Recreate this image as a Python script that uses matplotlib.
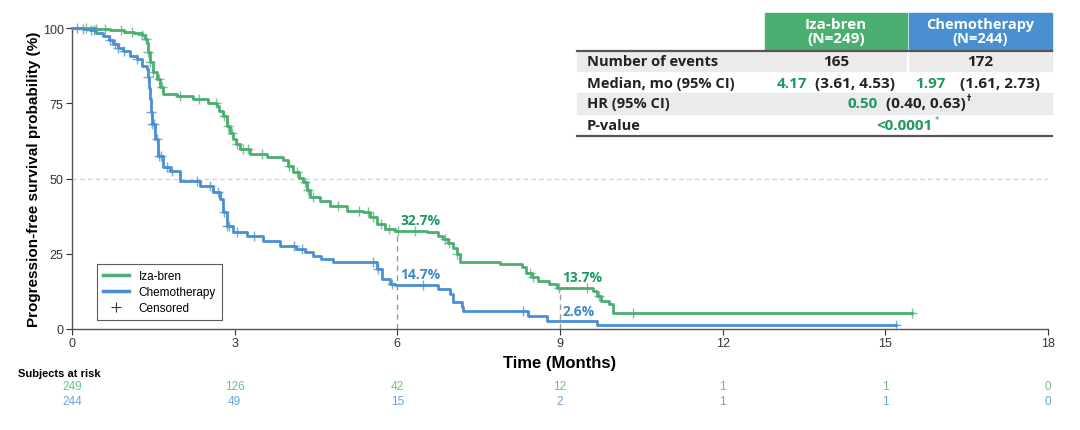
import matplotlib
matplotlib.use("Agg")
import matplotlib.pyplot as plt
import numpy as np
from matplotlib.lines import Line2D
from matplotlib.patches import Rectangle
import matplotlib.transforms as mtransforms

# Kaplan-Meier steps (months, % surviving)
iza_t = [0, 0.45, 0.7, 0.95, 1.15, 1.3, 1.35, 1.38, 1.40, 1.44, 1.49, 1.56, 1.62, 1.68, 1.93,
         2.23, 2.5, 2.67, 2.72, 2.78, 2.85, 2.92, 2.97, 3.03, 3.1, 3.28, 3.59, 3.89, 3.98, 4.08,
         4.18, 4.26, 4.33, 4.39, 4.57, 4.76, 5.07, 5.37, 5.5, 5.62, 5.77, 5.95, 6.55, 6.75, 6.85,
         6.93, 7.02, 7.1, 7.16, 7.9, 8.3, 8.38, 8.48, 8.6, 8.8, 8.95, 9.6, 9.68, 9.75, 9.9, 9.98, 15.5]
iza_s = [100, 99.6, 99.2, 98.8, 98.4, 97.6, 96.5, 95.0, 92.0, 88.7, 85.4, 83.0, 80.4, 78.0, 77.5,
         76.4, 75.2, 74.2, 72.5, 70.9, 67.5, 65.2, 63.1, 61.5, 59.8, 58.1, 57.0, 56.0, 54.0, 52.1,
         50.3, 48.8, 46.2, 43.8, 42.6, 41.0, 39.3, 39.0, 37.2, 34.9, 33.2, 32.7, 32.2, 31.0, 30.0,
         28.5, 27.0, 25.0, 22.2, 21.6, 20.6, 18.5, 17.2, 16.1, 15.0, 13.7, 12.5, 11.0, 9.2, 8.3, 5.2, 5.2]
chemo_t = [0, 0.2, 0.33, 0.45, 0.57, 0.68, 0.76, 0.85, 0.94, 1.07, 1.2, 1.29, 1.38, 1.40, 1.42,
           1.44, 1.45, 1.47, 1.53, 1.59, 1.68, 1.81, 1.99, 2.36, 2.6, 2.73, 2.78, 2.85, 2.97, 3.22,
           3.52, 3.84, 4.14, 4.3, 4.44, 4.6, 4.81, 5.62, 5.71, 5.86, 5.96, 6.75, 6.97, 7.03, 7.19,
           7.21, 8.41, 8.76, 9.68, 15.2]
chemo_s = [100, 99.6, 99.2, 98.4, 97.2, 96.0, 94.7, 93.5, 92.5, 90.8, 89.7, 87.5, 86.4, 83.7, 80.0,
           76.4, 72.0, 68.0, 63.0, 57.6, 53.8, 52.6, 49.3, 47.6, 45.5, 43.2, 38.8, 34.3, 32.1, 31.0,
           29.3, 27.7, 26.6, 25.5, 24.4, 23.3, 22.1, 19.9, 16.6, 15.0, 14.7, 13.3, 11.6, 8.9, 7.3,
           6.1, 4.4, 2.6, 1.3, 1.3]

# censored times
iza_cens = [0.25, 0.45, 0.6, 0.9, 1.1, 1.3, 1.36, 1.41, 1.44, 1.5, 1.6, 1.66, 2.0, 2.35, 2.65,
            2.8, 2.87, 2.95, 3.05, 3.15, 3.25, 3.5, 4.0, 4.15, 4.3, 4.35, 4.45, 4.9, 5.3, 5.45,
            5.55, 5.7, 5.85, 6.02, 6.33, 6.88, 6.95, 7.1, 8.45, 8.5, 8.98, 9.5, 9.72, 10.35, 15.5]
chemo_cens = [0.1, 0.2, 0.35, 0.4, 0.7, 0.8, 0.85, 0.95, 1.2, 1.4, 1.45, 1.48, 1.52, 1.56, 1.6,
              1.65, 1.75, 1.85, 2.3, 2.55, 2.7, 2.8, 2.85, 2.9, 3.05, 3.35, 4.1, 4.25, 5.55, 5.65,
              5.9, 6.47, 8.32, 15.2]

risk_times = [0, 3, 6, 9, 12, 15, 18]
iza_risk = [249, 126, 42, 12, 1, 1, 0]
chemo_risk = [244, 49, 15, 2, 1, 1, 0]

landmarks = [6, 9]
iza_land = [32.7, 13.7]
chemo_land = [14.7, 2.6]

GREEN = '#4cae72'
BLUE = '#4a8fd2'
GTXT = '#1f9960'
BTXT = '#3f88cc'
ARIAL = 'Liberation Sans'


def surv_at(t, times, surv):
    idx = np.searchsorted(times, t, side='right') - 1
    return np.array(surv)[idx]


fig = plt.figure(figsize=(10.8, 4.31), dpi=100)
ax = fig.add_axes([72/1080, 101/431, 976/1080, 301/431])

ax.axhline(50, color='#cccccc', lw=0.8, ls=(0, (4, 3)), zorder=1)
for lt, ls_ in zip(landmarks, iza_land):
    ax.plot([lt, lt], [0, ls_], color='#999999', lw=1, ls=(0, (4, 3)), zorder=1)

ax.step(iza_t, iza_s, where='post', color=GREEN, lw=2, zorder=3, clip_on=False)
ax.step(chemo_t, chemo_s, where='post', color=BLUE, lw=2, zorder=3, clip_on=False)
ax.plot(iza_cens, surv_at(iza_cens, iza_t, iza_s), ls='none', marker='+', ms=7, mew=1,
        color=GREEN, alpha=0.75, zorder=4, clip_on=False)
ax.plot(chemo_cens, surv_at(chemo_cens, chemo_t, chemo_s), ls='none', marker='+', ms=7, mew=1,
        color=BLUE, alpha=0.75, zorder=4, clip_on=False)

for lt, v in zip(landmarks, iza_land):
    ax.text(lt + 0.05, v + 1.2, f'{v}%', color=GTXT, fontsize=10, fontweight='bold',
            family='Open Sans', va='bottom', ha='left')
for lt, v in zip(landmarks, chemo_land):
    ax.text(lt + 0.05, v + 1.2, f'{v}%', color=BTXT, fontsize=10, fontweight='bold',
            family='Open Sans', va='bottom', ha='left')

ax.set_xlim(0, 18)
ax.set_ylim(0, 100)
ax.set_xticks(risk_times)
ax.set_yticks([0, 25, 50, 75, 100])
ax.tick_params(labelsize=9, colors='#333333', length=4, width=0.8, pad=2)
for lab in ax.get_xticklabels() + ax.get_yticklabels():
    lab.set_family(ARIAL)
for sp in ['top', 'right']:
    ax.spines[sp].set_visible(False)
for sp in ['left', 'bottom']:
    ax.spines[sp].set_color('#555555')
    ax.spines[sp].set_linewidth(1)

ax.set_xlabel('Time (Months)', fontsize=12, fontweight='bold', family=ARIAL, labelpad=4)
ax.set_ylabel('Progression-free survival probability (%)', fontsize=11, fontweight='bold',
              family=ARIAL, labelpad=1)

handles = [Line2D([], [], color=GREEN, lw=2.5), Line2D([], [], color=BLUE, lw=2.5),
           Line2D([], [], color='#333333', marker='+', ls='none', ms=7, mew=0.8)]
leg = ax.legend(handles, ['Iza-bren', 'Chemotherapy', 'Censored'], loc='lower left',
                bbox_to_anchor=(0.02, 0.01), fancybox=False, edgecolor='#333333',
                handlelength=2.2, borderpad=0.5, labelspacing=0.35, handletextpad=0.8,
                prop={'family': ARIAL, 'size': 8.5})
leg.get_frame().set_linewidth(0.8)

# numbers at risk
tr = mtransforms.blended_transform_factory(ax.transData, fig.transFigure)
fig.text(18/1080, 1 - 374/431, 'Subjects at risk', fontsize=8, fontweight='bold',
         family=ARIAL, va='center', ha='left')
for t, a, b in zip(risk_times, iza_risk, chemo_risk):
    fig.text(t, 1 - 387/431, str(a), transform=tr, ha='center', va='center', fontsize=8.5,
             color='#6cc08c', family=ARIAL)
    fig.text(t, 1 - 402/431, str(b), transform=tr, ha='center', va='center', fontsize=8.5,
             color='#6aa2d8', family=ARIAL)

# summary table in pixel coordinates
tab = fig.add_axes([0, 0, 1, 1], zorder=5)
tab.set_xlim(0, 1080)
tab.set_ylim(431, 0)
tab.axis('off')
tab.add_patch(Rectangle((765, 14), 142, 37, color='#4caf72'))
tab.add_patch(Rectangle((909, 14), 143, 37, color='#4a8fd0'))
tab.add_patch(Rectangle((577, 52), 475, 20, color='#ebebeb'))
tab.add_patch(Rectangle((577, 94), 475, 21, color='#ebebeb'))
tab.plot([907.5, 907.5], [52, 72], color='white', lw=1.5)
tab.plot([577, 1052], [51.5, 51.5], color='#555555', lw=1.6)
tab.plot([577, 1052], [137, 137], color='#555555', lw=1.6)

F = dict(family='Open Sans', fontweight='bold', fontsize=10.5, va='center')
V = dict(family='Open Sans', fontweight='bold', fontsize=11, va='center')
tab.text(836, 32, 'Iza-bren\n(N=249)', color='white', ha='center', linespacing=1.0, **V)
tab.text(980, 32, 'Chemotherapy\n(N=244)', color='white', ha='center', linespacing=1.0, **F)
rows = ['Number of events', 'Median, mo (95% CI)', 'HR (95% CI)', 'P-value']
row_y = [62, 84, 104, 126]
for r, y in zip(rows, row_y):
    tab.text(587, y, r, color='#222222', ha='left', **F)
tab.text(836, 62, '165', color='#222222', ha='center', **V)
tab.text(980, 62, '172', color='#222222', ha='center', **V)
tab.text(777, 84, '4.17', color=GTXT, ha='left', **V)
tab.text(895, 84, '(3.61, 4.53)', color='#222222', ha='right', **V)
tab.text(915, 84, '1.97', color=GTXT, ha='left', **V)
tab.text(1040, 84, '(1.61, 2.73)', color='#222222', ha='right', **V)
tab.text(847, 104, '0.50', color=GTXT, ha='left', **V)
tab.text(966, 104, '(0.40, 0.63)', color='#222222', ha='right', **V)
tab.text(967, 99, '\u2020', color='#222222', ha='left', family='DejaVu Sans', fontsize=6,
         fontweight='bold', va='center')
tab.text(876, 126, '<0.0001', color=GTXT, ha='left', **V)
tab.text(935, 121, '*', color=GTXT, ha='left', family='DejaVu Sans', fontsize=6, va='center')

fig.savefig('out.png', dpi=100)
